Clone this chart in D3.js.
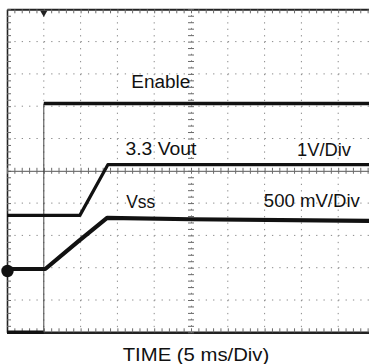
<!DOCTYPE html>
<html>
<head>
<meta charset="utf-8">
<script src="https://cdn.jsdelivr.net/npm/d3@7"></script>
<style>
  html, body { margin: 0; padding: 0; background: #fff; }
  svg { display: block; }
  text { font-family: "Liberation Sans", Arial, sans-serif; fill: #111; }
</style>
</head>
<body>
<div id="chart"></div>
<script>
// ---- Data (time in ms, 5 ms/div; level in screen divisions from bottom) ----
const enableTime   = [0, 5, 5, 50];
const enableLevel  = [0, 0, 7.08, 7.08];

const voutTime     = [0, 9.9, 13.7, 50];
const voutLevel    = [3.62, 3.62, 5.19, 5.19];

const vssTime      = [0, 5.2, 9.6, 13.6, 25, 50];
const vssLevel     = [1.96, 1.96, 2.8, 3.54, 3.5, 3.45];

const labels = [
  { text: "Enable",          t: 16.9, lv: 7.56, w: 59 },
  { text: "3.3 Vout",        t: 16.1, lv: 5.48, w: 71 },
  { text: "1V/Div",          t: 39.4, lv: 5.46, w: 54 },
  { text: "Vss",             t: 16.2, lv: 3.86, w: 29 },
  { text: "500 mV/Div",      t: 34.9, lv: 3.89, w: 96 }
];
const xTitle = "TIME (5 ms/Div)";

// ---- Layout ----
const W = 369, H = 364;
const svg = d3.select("#chart").append("svg").attr("width", W).attr("height", H);

const x = d3.scaleLinear().domain([0, 50]).range([7, 375]);
const y = d3.scaleLinear().domain([0, 10]).range([332.3, 9.3]);

const gridColor = "#8a8a8a";
const tickColor = "#6a6a6a";

// dotted grid lines
const g = svg.append("g");
const vDivs = d3.range(1, 10).filter(i => i !== 5);
const hDivs = d3.range(1, 10).filter(i => i !== 5);
const pxPerMinorX = (x(1) - x(0));
const pxPerMinorY = (y(0) - y(0.2));

g.selectAll("line.vg").data(vDivs).join("line")
  .attr("x1", d => x(d * 5)).attr("x2", d => x(d * 5))
  .attr("y1", y(10)).attr("y2", y(0))
  .attr("stroke", gridColor).attr("stroke-width", 1)
  .attr("stroke-dasharray", `1.3 ${pxPerMinorY - 1.3}`);

g.selectAll("line.hg").data(hDivs).join("line")
  .attr("y1", d => y(d)).attr("y2", d => y(d))
  .attr("x1", x(0)).attr("x2", x(50))
  .attr("stroke", gridColor).attr("stroke-width", 1)
  .attr("stroke-dasharray", `1.3 ${pxPerMinorX - 1.3}`);

// axes / ticks
const minorT = d3.range(0, 50.01, 1);
const minorL = d3.range(0, 10.01, 0.2);

function styleAxis(sel, domainWidth, domainColor, dash) {
  sel.selectAll(".tick text").remove();
  sel.selectAll(".tick line").attr("stroke", tickColor).attr("stroke-width", 1);
  sel.select(".domain").attr("stroke", domainColor).attr("stroke-width", domainWidth)
     .attr("stroke-dasharray", dash || null);
}

// top border
svg.append("g").attr("transform", `translate(0,${y(10)})`)
  .call(d3.axisBottom(x).tickValues(minorT).tickSize(4).tickSizeOuter(0).tickFormat(""))
  .call(s => styleAxis(s, 2, "#222"));
// bottom border
svg.append("g").attr("transform", `translate(0,${y(0)})`)
  .call(d3.axisTop(x).tickValues(minorT).tickSize(4).tickSizeOuter(0).tickFormat(""))
  .call(s => styleAxis(s, 2.5, "#222"));
// left border
svg.append("g").attr("transform", `translate(${x(0)},0)`)
  .call(d3.axisRight(y).tickValues(minorL).tickSize(4).tickSizeOuter(0).tickFormat(""))
  .call(s => styleAxis(s, 1.6, "#222"));
// centre horizontal
svg.append("g").attr("transform", `translate(0,${y(5)})`)
  .call(d3.axisTop(x).tickValues(minorT).tickSize(3).tickSizeOuter(0).tickFormat(""))
  .call(s => styleAxis(s, 1, "#555"));
svg.append("g").attr("transform", `translate(0,${y(5)})`)
  .call(d3.axisBottom(x).tickValues(minorT).tickSize(3).tickSizeOuter(0).tickFormat(""))
  .call(s => { s.selectAll(".tick text").remove(); s.select(".domain").remove();
               s.selectAll(".tick line").attr("stroke", tickColor); });
// centre vertical (dotted with ticks)
svg.append("g").attr("transform", `translate(${x(25)},0)`)
  .call(d3.axisLeft(y).tickValues(minorL).tickSize(3).tickSizeOuter(0).tickFormat(""))
  .call(s => styleAxis(s, 1, gridColor, `1.3 ${pxPerMinorY - 1.3}`));
svg.append("g").attr("transform", `translate(${x(25)},0)`)
  .call(d3.axisRight(y).tickValues(minorL).tickSize(3).tickSizeOuter(0).tickFormat(""))
  .call(s => { s.selectAll(".tick text").remove(); s.select(".domain").remove();
               s.selectAll(".tick line").attr("stroke", tickColor); });

// ---- Traces ----
function pts(ts, ls) { return ts.map((t, i) => [t, ls[i]]); }
const line = d3.line().x(d => x(d[0])).y(d => y(d[1]));

function drawTrace(ts, ls, width) {
  const p = pts(ts, ls);
  // split vertical edges (same time) into thin segments
  let seg = [p[0]];
  for (let i = 1; i < p.length; i++) {
    if (p[i][0] === p[i - 1][0]) {
      svg.append("path").attr("d", line(seg)).attr("fill", "none")
        .attr("stroke", "#111").attr("stroke-width", width).attr("stroke-linejoin", "round");
      svg.append("path").attr("d", line([p[i - 1], p[i]])).attr("fill", "none")
        .attr("stroke", "#444").attr("stroke-width", 1);
      seg = [p[i]];
    } else seg.push(p[i]);
  }
  svg.append("path").attr("d", line(seg)).attr("fill", "none")
    .attr("stroke", "#111").attr("stroke-width", width).attr("stroke-linejoin", "round");
}
drawTrace(enableTime, enableLevel, 3.5);
drawTrace(voutTime, voutLevel, 3.2);
drawTrace(vssTime, vssLevel, 4.2);

// ground marker of the Vss channel
svg.append("circle").attr("cx", x(0) + 0.5).attr("cy", y(vssLevel[0]) + 2).attr("r", 6.2).attr("fill", "#111");

// trigger marker
svg.append("path")
  .attr("d", d3.symbol().type(d3.symbolTriangle).size(22))
  .attr("transform", `translate(${x(5)},${y(10) + 3.5}) rotate(180)`)
  .attr("fill", "#222");

// ---- Labels ----
svg.selectAll("text.lab").data(labels).join("text")
  .attr("x", d => x(d.t)).attr("y", d => y(d.lv))
  .attr("font-size", 18)
  .attr("textLength", d => d.w).attr("lengthAdjust", "spacingAndGlyphs")
  .text(d => d.text);

svg.append("text")
  .attr("x", 122.7).attr("y", 360.5)
  .attr("font-size", 17.5)
  .attr("textLength", 146.6).attr("lengthAdjust", "spacingAndGlyphs")
  .text(xTitle);
</script>
</body>
</html>
